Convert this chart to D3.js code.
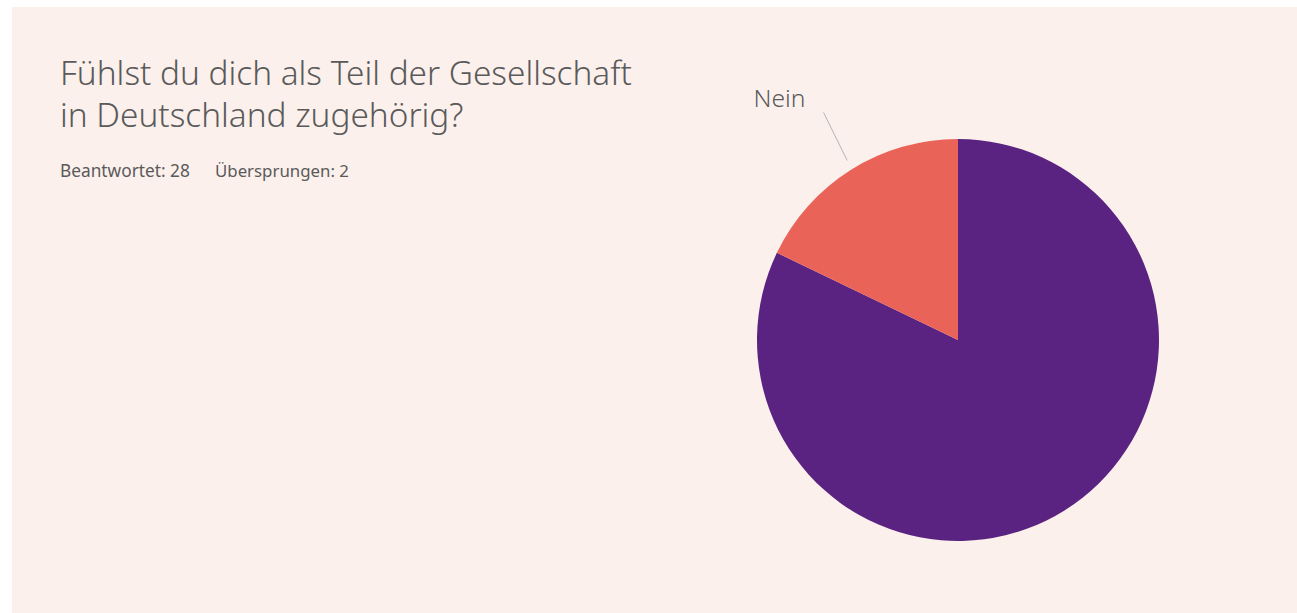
<!DOCTYPE html>
<html>
<head>
<meta charset="utf-8">
<script src="https://cdn.jsdelivr.net/npm/d3@7"></script>
<style>
  body { margin: 0; background: #fff; }
  text { font-family: "Noto Sans", Lato, sans-serif; fill: #5a5a5a; }
</style>
</head>
<body>
<div id="chart"></div>
<script>
// answers, in drawing order (clockwise from 12 o'clock)
var categories = ["Ja", "Nein"];
var counts = [23, 5];
var colors = ["#5b2381", "#ea6358"];
var shownLabels = ["Nein"];

var titleLines = ["Fühlst du dich als Teil der Gesellschaft", "in Deutschland zugehörig?"];
var answered = 28, skipped = 2;

var W = 1297, H = 613;
var svg = d3.select("#chart").append("svg")
  .attr("width", W)
  .attr("height", H);

// shrink/grow the font so a text node spans the wanted width
function fitWidth(sel, target) {
  var size = parseFloat(sel.style("font-size"));
  var w = sel.node().getComputedTextLength();
  sel.style("font-size", (size * target / w) + "px");
}

// panel
svg.append("rect")
  .attr("x", 12).attr("y", 7)
  .attr("width", W - 12).attr("height", H - 7)
  .attr("fill", "#fcf0ec");

// title, one text per line; fitted on the first (widest) line
var titleSize = 28;
var titles = svg.selectAll(".title")
  .data(titleLines)
  .enter().append("text")
  .attr("class", "title")
  .attr("x", 60)
  .attr("y", function(d, i) { return 85 + i * 42; })
  .style("font-size", titleSize + "px")
  .style("font-weight", 300)
  .text(function(d) { return d; });
var t1 = titles.node().getComputedTextLength();
titles.style("font-size", (titleSize * 572 / t1) + "px");

var s1 = svg.append("text")
  .attr("x", 60).attr("y", 177)
  .style("font-size", "15px")
  .text("Beantwortet: " + answered);
fitWidth(s1, 130);
var s2 = svg.append("text")
  .attr("x", 215).attr("y", 177)
  .style("font-size", "15px")
  .text("Übersprungen: " + skipped);
fitWidth(s2, 134);

// pie
var cx = 958, cy = 340, r = 201;
var data = categories.map(function(c, i) { return {cat: c, value: counts[i], color: colors[i]}; });
var pie = d3.pie().sort(null).value(function(d) { return d.value; });
var arc = d3.arc().innerRadius(0).outerRadius(r);
var arcs = pie(data);

var g = svg.append("g").attr("transform", "translate(" + cx + "," + cy + ")");
g.selectAll("path")
  .data(arcs)
  .enter().append("path")
  .attr("d", arc)
  .attr("fill", function(d) { return d.data.color; });

// leader lines + labels
var inner = d3.arc().innerRadius(212).outerRadius(212);
var outer = d3.arc().innerRadius(264).outerRadius(264);
var labelled = arcs.filter(function(d) { return shownLabels.indexOf(d.data.cat) >= 0; });

g.selectAll(".leader")
  .data(labelled)
  .enter().append("line")
  .attr("class", "leader")
  .attr("x1", function(d) { return inner.centroid(d)[0] + 2; })
  .attr("y1", function(d) { return inner.centroid(d)[1]; })
  .attr("x2", function(d) { return outer.centroid(d)[0] + 6; })
  .attr("y2", function(d) { return outer.centroid(d)[1] - 4; })
  .attr("stroke", "#b5b5b5")
  .attr("stroke-width", 1);

g.selectAll(".lbl")
  .data(labelled)
  .enter().append("text")
  .attr("class", "lbl")
  .attr("x", function(d) { return outer.centroid(d)[0] - 12; })
  .attr("y", function(d) { return outer.centroid(d)[1] - 9; })
  .attr("text-anchor", "end")
  .style("font-size", "22px")
  .style("font-weight", 300)
  .text(function(d) { return d.data.cat; })
  .each(function() { fitWidth(d3.select(this), 52); });
</script>
</body>
</html>
